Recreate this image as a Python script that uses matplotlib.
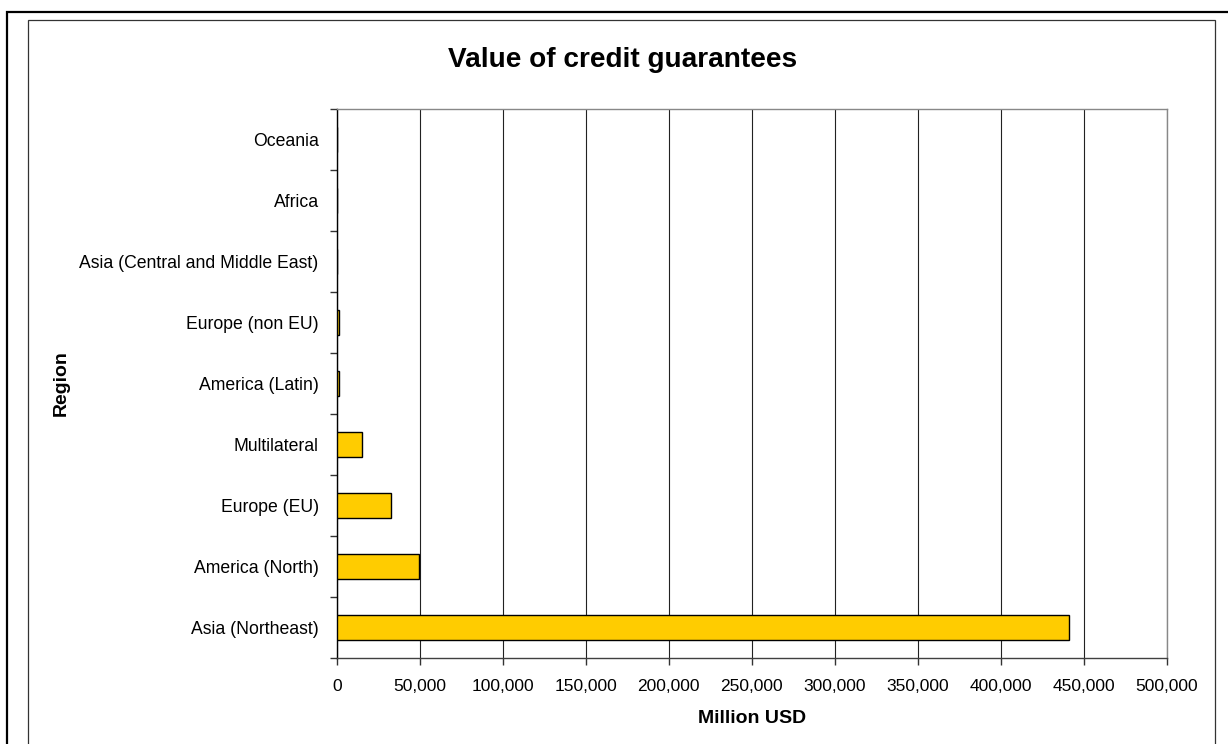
import matplotlib
matplotlib.use('Agg')

import numpy as np
import matplotlib.pyplot as plt
from matplotlib.patches import Rectangle
from matplotlib.ticker import FuncFormatter, FixedLocator

plt.rcParams['font.family'] = ['Liberation Sans', 'DejaVu Sans']

regions = ["Asia (Northeast)", "America (North)", "Europe (EU)", "Multilateral",
           "America (Latin)", "Europe (non EU)", "Asia (Central and Middle East)",
           "Africa", "Oceania"]
values = [441000, 49500, 33000, 15500, 1500, 1600, 0, 0, 0]
x_ticks = [0, 50000, 100000, 150000, 200000, 250000, 300000, 350000, 400000, 450000, 500000]

fig = plt.figure(figsize=(12.28, 7.44), dpi=100)
ax = fig.add_axes([0.2742, 0.1156, 0.6758, 0.7379])

pos = np.arange(len(regions))
ax.barh(pos, values, height=0.4, color='#FFCC00', edgecolor='black', linewidth=1.0, zorder=3)

ax.set_xlim(0, 500000)
ax.set_ylim(-0.5, len(regions) - 0.5)
ax.set_xticks(x_ticks)
ax.xaxis.set_major_formatter(FuncFormatter(lambda v, p: f"{int(v):,}"))
ax.grid(axis='x', color='#222222', linewidth=0.8, zorder=0)

# labels at category centres, tick marks on the boundaries
ax.set_yticks(pos)
ax.set_yticklabels(regions)
ax.yaxis.set_minor_locator(FixedLocator(np.arange(-0.5, len(regions), 1.0)))
ax.tick_params(axis='y', which='major', length=0, pad=13, labelsize=12.7)
ax.tick_params(axis='y', which='minor', length=5, width=1, color='#333333', direction='out')
ax.tick_params(axis='x', length=5, width=1, color='#333333', direction='out', pad=10, labelsize=12.5)

for side, col in [('left', 'black'), ('bottom', '#404040'), ('top', '#888888'), ('right', '#888888')]:
    ax.spines[side].set_color(col)
    ax.spines[side].set_linewidth(1.0)

fig.text(0.507, 0.919, "Value of credit guarantees", fontsize=20.2, fontweight='bold',
         ha='center', va='center')
ax.set_xlabel("Million USD", fontsize=14, fontweight='bold', labelpad=12)
ax.set_ylabel("Region", fontsize=14, fontweight='bold')
ax.yaxis.set_label_coords(-0.322, 0.5)

# chart frames
fig.patches.append(Rectangle((0.0057, -0.05), 1.1, 0.9839 + 0.05, transform=fig.transFigure,
                             fill=False, edgecolor='black', linewidth=1.6))
fig.patches.append(Rectangle((0.0228, -0.05), 0.9894 - 0.0228, 0.9731 + 0.05, transform=fig.transFigure,
                             fill=False, edgecolor='#333333', linewidth=0.9))

fig.savefig('out.png', dpi=100)
